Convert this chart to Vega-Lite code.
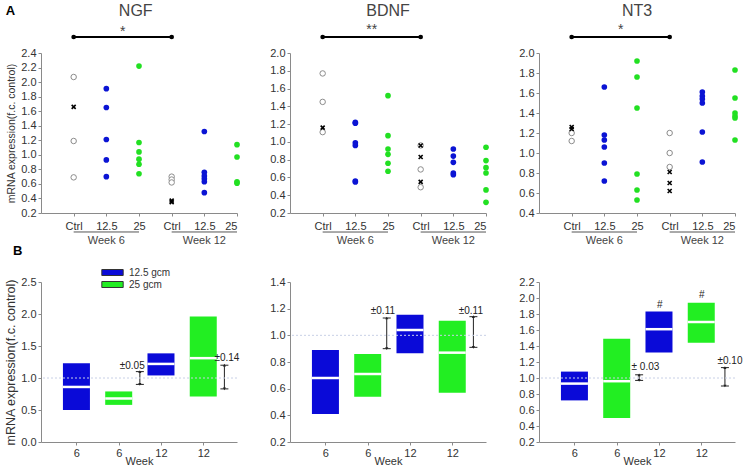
{
"$schema": "https://vega.github.io/schema/vega-lite/v6.json",
"padding": {"left": 4, "top": 2, "right": 0, "bottom": 0},
"config": {
  "font": "Liberation Sans",
  "view": {"stroke": null},
  "axis": {"grid": false, "domainColor": "#8a8a8a", "tickColor": "#8a8a8a", "labelColor": "#333", "labelFontSize": 11, "titleColor": "#333", "titleFontSize": 11, "titleFontWeight": "normal", "tickSize": 3, "labelPadding": 2}
},
"datasets": {
  "ngf": [
    {"i":0,"v":2.07,"k":"o"},{"i":0,"v":1.19,"k":"o"},{"i":0,"v":0.69,"k":"o"},{"i":3,"v":0.70,"k":"o"},{"i":3,"v":0.66,"k":"o"},{"i":3,"v":0.62,"k":"o"},
    {"i":0,"v":1.66,"k":"x"},{"i":3,"v":0.37,"k":"x"},{"i":3,"v":0.35,"k":"x"},
    {"i":1,"v":1.91,"k":"12.5"},{"i":1,"v":1.65,"k":"12.5"},{"i":1,"v":1.21,"k":"12.5"},{"i":1,"v":0.93,"k":"12.5"},{"i":1,"v":0.70,"k":"12.5"},
    {"i":4,"v":1.32,"k":"12.5"},{"i":4,"v":0.76,"k":"12.5"},{"i":4,"v":0.71,"k":"12.5"},{"i":4,"v":0.67,"k":"12.5"},{"i":4,"v":0.63,"k":"12.5"},{"i":4,"v":0.48,"k":"12.5"},
    {"i":2,"v":2.22,"k":"25"},{"i":2,"v":1.17,"k":"25"},{"i":2,"v":1.04,"k":"25"},{"i":2,"v":0.94,"k":"25"},{"i":2,"v":0.87,"k":"25"},{"i":2,"v":0.74,"k":"25"},
    {"i":5,"v":1.14,"k":"25"},{"i":5,"v":0.97,"k":"25"},{"i":5,"v":0.63,"k":"25"},{"i":5,"v":0.61,"k":"25"}
  ],
  "bdnf": [
    {"i":0,"v":1.77,"k":"o"},{"i":0,"v":1.45,"k":"o"},{"i":0,"v":1.11,"k":"o"},{"i":3,"v":0.96,"k":"o"},{"i":3,"v":0.69,"k":"o"},{"i":3,"v":0.49,"k":"o"},
    {"i":0,"v":1.16,"k":"x"},{"i":3,"v":0.96,"k":"x"},{"i":3,"v":0.83,"k":"x"},{"i":3,"v":0.55,"k":"x"},
    {"i":1,"v":1.22,"k":"12.5"},{"i":1,"v":1.21,"k":"12.5"},{"i":1,"v":0.99,"k":"12.5"},{"i":1,"v":0.96,"k":"12.5"},{"i":1,"v":0.56,"k":"12.5"},{"i":1,"v":0.55,"k":"12.5"},
    {"i":4,"v":0.92,"k":"12.5"},{"i":4,"v":0.84,"k":"12.5"},{"i":4,"v":0.77,"k":"12.5"},{"i":4,"v":0.65,"k":"12.5"},{"i":4,"v":0.63,"k":"12.5"},
    {"i":2,"v":1.52,"k":"25"},{"i":2,"v":1.07,"k":"25"},{"i":2,"v":0.92,"k":"25"},{"i":2,"v":0.86,"k":"25"},{"i":2,"v":0.76,"k":"25"},{"i":2,"v":0.67,"k":"25"},
    {"i":5,"v":0.94,"k":"25"},{"i":5,"v":0.79,"k":"25"},{"i":5,"v":0.71,"k":"25"},{"i":5,"v":0.65,"k":"25"},{"i":5,"v":0.46,"k":"25"},{"i":5,"v":0.32,"k":"25"}
  ],
  "nt3": [
    {"i":0,"v":1.20,"k":"o"},{"i":0,"v":1.12,"k":"o"},{"i":3,"v":1.20,"k":"o"},{"i":3,"v":1.00,"k":"o"},{"i":3,"v":0.86,"k":"o"},
    {"i":0,"v":1.26,"k":"x"},{"i":0,"v":1.24,"k":"x"},{"i":3,"v":0.81,"k":"x"},{"i":3,"v":0.70,"k":"x"},{"i":3,"v":0.62,"k":"x"},
    {"i":1,"v":1.66,"k":"12.5"},{"i":1,"v":1.18,"k":"12.5"},{"i":1,"v":1.13,"k":"12.5"},{"i":1,"v":1.06,"k":"12.5"},{"i":1,"v":0.90,"k":"12.5"},{"i":1,"v":0.72,"k":"12.5"},
    {"i":4,"v":1.61,"k":"12.5"},{"i":4,"v":1.57,"k":"12.5"},{"i":4,"v":1.54,"k":"12.5"},{"i":4,"v":1.50,"k":"12.5"},{"i":4,"v":1.21,"k":"12.5"},{"i":4,"v":0.91,"k":"12.5"},
    {"i":2,"v":1.92,"k":"25"},{"i":2,"v":1.76,"k":"25"},{"i":2,"v":1.45,"k":"25"},{"i":2,"v":0.79,"k":"25"},{"i":2,"v":0.63,"k":"25"},{"i":2,"v":0.53,"k":"25"},
    {"i":5,"v":1.83,"k":"25"},{"i":5,"v":1.55,"k":"25"},{"i":5,"v":1.40,"k":"25"},{"i":5,"v":1.37,"k":"25"},{"i":5,"v":1.35,"k":"25"},{"i":5,"v":1.13,"k":"25"}
  ],
  "ngf_b": [
    {"i":0,"week":"6","dose":"12.5 gcm","v":0.50,"v2":1.23},
    {"i":1,"week":"6","dose":"25 gcm","v":0.58,"v2":0.79},
    {"i":2,"week":"12","dose":"12.5 gcm","v":1.04,"v2":1.385},
    {"i":3,"week":"12","dose":"25 gcm","v":0.71,"v2":1.96}
  ],
  "ngf_m": [{"i":0,"v":0.86},{"i":1,"v":0.68},{"i":2,"v":1.22},{"i":3,"v":1.31}],
  "bdnf_b": [
    {"i":0,"week":"6","dose":"12.5 gcm","v":0.41,"v2":0.89},
    {"i":1,"week":"6","dose":"25 gcm","v":0.54,"v2":0.86},
    {"i":2,"week":"12","dose":"12.5 gcm","v":0.865,"v2":1.155},
    {"i":3,"week":"12","dose":"25 gcm","v":0.57,"v2":1.11}
  ],
  "bdnf_m": [{"i":0,"v":0.68},{"i":1,"v":0.71},{"i":2,"v":1.04},{"i":3,"v":0.87}],
  "nt3_b": [
    {"i":0,"week":"6","dose":"12.5 gcm","v":0.72,"v2":1.08},
    {"i":1,"week":"6","dose":"25 gcm","v":0.50,"v2":1.49},
    {"i":2,"week":"12","dose":"12.5 gcm","v":1.32,"v2":1.83},
    {"i":3,"week":"12","dose":"25 gcm","v":1.44,"v2":1.94}
  ],
  "nt3_m": [{"i":0,"v":0.93},{"i":1,"v":0.96},{"i":2,"v":1.61},{"i":3,"v":1.70}],
  "ngf_e": [{"i":1.5,"v":0.9,"v2":1.1},{"i":3.5,"v":0.83,"v2":1.2}],
  "bdnf_e": [{"i":1.45,"v":0.90,"v2":1.13},{"i":3.5,"v":0.91,"v2":1.14}],
  "nt3_e": [{"i":1.53,"v":0.97,"v2":1.04},{"i":3.56,"v":0.90,"v2":1.13}],
  "ngf_t": [{"i":1.32,"v":1.18,"t":"±0.05"},{"i":3.56,"v":1.31,"t":"±0.14"}],
  "bdnf_t": [{"i":1.36,"v":1.18,"t":"±0.11"},{"i":3.44,"v":1.18,"t":"±0.11"}],
  "nt3_t": [{"i":1.68,"v":1.14,"t":"± 0.03"},{"i":3.68,"v":1.21,"t":"±0.10"},{"i":2.02,"v":1.91,"t":"#"},{"i":3.01,"v":2.04,"t":"#"}]
},
"columns": 3,
"spacing": {"row": 69, "column": 53},
"bounds": "flush",
"concat": [
  {
    "width": 196, "height": 160,
    "encoding": {
      "x": {"field": "i", "type": "quantitative", "scale": {"domain": [-1, 5], "nice": false, "zero": false},
            "axis": {"values": [0,1,2,3,4,5], "labelExpr": "datum.value % 3 == 0 ? 'Ctrl' : (datum.value % 3 == 1 ? '12.5' : '25')", "title": null, "labelPadding": 4}},
      "y": {"field": "v", "type": "quantitative", "scale": {"domain": [0.2, 2.4], "nice": false, "zero": false},
            "axis": {"values": [0.2,0.4,0.6,0.8,1.0,1.2,1.4,1.6,1.8,2.0,2.2,2.4], "format": ".1f", "title": "mRNA expression(f.c. control)", "titleFontSize": 10.5, "titlePadding": 4}}
    },
    "layer": [
      {"data": {"name": "ngf"}, "transform": [{"filter": "datum.k == 'o'"}], "mark": {"type": "point", "shape": "circle", "filled": false, "fill": "white", "stroke": "#8c8c8c", "strokeWidth": 1, "size": 30, "opacity": 1}},
      {"data": {"name": "ngf"}, "transform": [{"filter": "datum.k == 'x'"}], "mark": {"type": "point", "shape": "M-1,-1L1,1M-1,1L1,-1", "filled": false, "stroke": "black", "strokeWidth": 1.6, "size": 16, "opacity": 1}},
      {"data": {"name": "ngf"}, "transform": [{"filter": "datum.k == '12.5'"}], "mark": {"type": "circle", "color": "#0b14d4", "size": 32, "opacity": 1}},
      {"data": {"name": "ngf"}, "transform": [{"filter": "datum.k == '25'"}], "mark": {"type": "circle", "color": "#22e022", "size": 32, "opacity": 1}},
      {"data": {"values": [{"i":0,"v":2.62},{"i":3,"v":2.62}]}, "mark": {"type": "line", "color": "black", "strokeWidth": 2, "point": {"filled": true, "size": 22, "color": "black"}}},
      {"data": {"values": [{"i":1.5,"v":2.69,"t":"*"}]}, "mark": {"type": "text", "fontSize": 14, "color": "#444"}, "encoding": {"text": {"field": "t"}}},
      {"data": {"values": [{"i":0,"i2":2,"v":-0.061},{"i":3,"i2":5,"v":-0.061}]}, "mark": {"type": "rule", "color": "#555", "strokeWidth": 1}, "encoding": {"x2": {"field": "i2"}}},
      {"data": {"values": [{"i":1,"v":-0.185,"t":"Week 6"},{"i":4,"v":-0.185,"t":"Week 12"}]}, "mark": {"type": "text", "fontSize": 11, "color": "#444"}, "encoding": {"text": {"field": "t"}}},
      {"data": {"values": [{"i":1.9,"v":2.98,"t":"NGF"}]}, "mark": {"type": "text", "fontSize": 16, "color": "#444"}, "encoding": {"text": {"field": "t"}}},
      {"data": {"values": [{"i":-2.08,"v":2.98,"t":"A"}]}, "mark": {"type": "text", "fontSize": 13, "fontWeight": "bold", "align": "left", "color": "black"}, "encoding": {"text": {"field": "t"}}}
    ]
  },
  {
    "width": 196, "height": 160,
    "encoding": {
      "x": {"field": "i", "type": "quantitative", "scale": {"domain": [-1, 5], "nice": false, "zero": false},
            "axis": {"values": [0,1,2,3,4,5], "labelExpr": "datum.value % 3 == 0 ? 'Ctrl' : (datum.value % 3 == 1 ? '12.5' : '25')", "title": null, "labelPadding": 4}},
      "y": {"field": "v", "type": "quantitative", "scale": {"domain": [0.2, 2.0], "nice": false, "zero": false},
            "axis": {"values": [0.2,0.4,0.6,0.8,1.0,1.2,1.4,1.6,1.8,2.0], "format": ".1f", "title": null}}
    },
    "layer": [
      {"data": {"name": "bdnf"}, "transform": [{"filter": "datum.k == 'o'"}], "mark": {"type": "point", "shape": "circle", "filled": false, "fill": "white", "stroke": "#8c8c8c", "strokeWidth": 1, "size": 30, "opacity": 1}},
      {"data": {"name": "bdnf"}, "transform": [{"filter": "datum.k == 'x'"}], "mark": {"type": "point", "shape": "M-1,-1L1,1M-1,1L1,-1", "filled": false, "stroke": "black", "strokeWidth": 1.6, "size": 16, "opacity": 1}},
      {"data": {"name": "bdnf"}, "transform": [{"filter": "datum.k == '12.5'"}], "mark": {"type": "circle", "color": "#0b14d4", "size": 32, "opacity": 1}},
      {"data": {"name": "bdnf"}, "transform": [{"filter": "datum.k == '25'"}], "mark": {"type": "circle", "color": "#22e022", "size": 32, "opacity": 1}},
      {"data": {"values": [{"i":0,"v":2.18},{"i":3,"v":2.18}]}, "mark": {"type": "line", "color": "black", "strokeWidth": 2, "point": {"filled": true, "size": 22, "color": "black"}}},
      {"data": {"values": [{"i":1.5,"v":2.255,"t":"**"}]}, "mark": {"type": "text", "fontSize": 14, "color": "#444"}, "encoding": {"text": {"field": "t"}}},
      {"data": {"values": [{"i":0,"i2":2,"v":-0.014},{"i":3,"i2":5,"v":-0.014}]}, "mark": {"type": "rule", "color": "#555", "strokeWidth": 1}, "encoding": {"x2": {"field": "i2"}}},
      {"data": {"values": [{"i":1,"v":-0.115,"t":"Week 6"},{"i":4,"v":-0.115,"t":"Week 12"}]}, "mark": {"type": "text", "fontSize": 11, "color": "#444"}, "encoding": {"text": {"field": "t"}}},
      {"data": {"values": [{"i":2,"v":2.476,"t":"BDNF"}]}, "mark": {"type": "text", "fontSize": 16, "color": "#444"}, "encoding": {"text": {"field": "t"}}}
    ]
  },
  {
    "width": 196, "height": 160,
    "encoding": {
      "x": {"field": "i", "type": "quantitative", "scale": {"domain": [-1, 5], "nice": false, "zero": false},
            "axis": {"values": [0,1,2,3,4,5], "labelExpr": "datum.value % 3 == 0 ? 'Ctrl' : (datum.value % 3 == 1 ? '12.5' : '25')", "title": null, "labelPadding": 4}},
      "y": {"field": "v", "type": "quantitative", "scale": {"domain": [0.4, 2.0], "nice": false, "zero": false},
            "axis": {"values": [0.4,0.6,0.8,1.0,1.2,1.4,1.6,1.8,2.0], "format": ".1f", "title": null}}
    },
    "layer": [
      {"data": {"name": "nt3"}, "transform": [{"filter": "datum.k == 'o'"}], "mark": {"type": "point", "shape": "circle", "filled": false, "fill": "white", "stroke": "#8c8c8c", "strokeWidth": 1, "size": 30, "opacity": 1}},
      {"data": {"name": "nt3"}, "transform": [{"filter": "datum.k == 'x'"}], "mark": {"type": "point", "shape": "M-1,-1L1,1M-1,1L1,-1", "filled": false, "stroke": "black", "strokeWidth": 1.6, "size": 16, "opacity": 1}},
      {"data": {"name": "nt3"}, "transform": [{"filter": "datum.k == '12.5'"}], "mark": {"type": "circle", "color": "#0b14d4", "size": 32, "opacity": 1}},
      {"data": {"name": "nt3"}, "transform": [{"filter": "datum.k == '25'"}], "mark": {"type": "circle", "color": "#22e022", "size": 32, "opacity": 1}},
      {"data": {"values": [{"i":0,"v":2.16},{"i":3,"v":2.16}]}, "mark": {"type": "line", "color": "black", "strokeWidth": 2, "point": {"filled": true, "size": 22, "color": "black"}}},
      {"data": {"values": [{"i":1.5,"v":2.235,"t":"*"}]}, "mark": {"type": "text", "fontSize": 14, "color": "#444"}, "encoding": {"text": {"field": "t"}}},
      {"data": {"values": [{"i":0,"i2":2,"v":0.21},{"i":3,"i2":5,"v":0.21}]}, "mark": {"type": "rule", "color": "#555", "strokeWidth": 1}, "encoding": {"x2": {"field": "i2"}}},
      {"data": {"values": [{"i":1,"v":0.12,"t":"Week 6"},{"i":4,"v":0.12,"t":"Week 12"}]}, "mark": {"type": "text", "fontSize": 11, "color": "#444"}, "encoding": {"text": {"field": "t"}}},
      {"data": {"values": [{"i":2,"v":2.42,"t":"NT3"}]}, "mark": {"type": "text", "fontSize": 16, "color": "#444"}, "encoding": {"text": {"field": "t"}}}
    ]
  },
  {
    "width": 196, "height": 160,
    "layer": [
      {
        "encoding": {
          "x": {"field": "i", "type": "quantitative", "scale": {"domain": [-0.72, 3.68], "nice": false, "zero": false},
                "axis": {"values": [0,1,2,3], "labelExpr": "datum.value < 2 ? '6' : '12'", "title": "Week", "titlePadding": -3}},
          "y": {"field": "v", "type": "quantitative", "scale": {"domain": [0, 2.5], "nice": false, "zero": false},
                "axis": {"values": [0,0.5,1.0,1.5,2.0,2.5], "format": ".1f", "title": "mRNA expression(f.c. control)", "titleFontSize": 12.5, "titlePadding": 3}}
        },
        "layer": [
          {"data": {"name": "ngf_b"}, "mark": {"type": "bar", "width": 27},
           "encoding": {"y2": {"field": "v2"},
             "color": {"field": "dose", "type": "nominal", "scale": {"domain": ["12.5 gcm", "25 gcm"], "range": ["#0a0ad8", "#22ee22"]},
                       "legend": {"title": null, "orient": "none", "legendX": 65, "legendY": 213, "padding": 0, "symbolType": "M-1.78,-0.5H1.78V0.5H-1.78Z", "symbolSize": 144, "symbolStrokeColor": "#333", "symbolStrokeWidth": 1, "symbolOpacity": 1, "labelFontSize": 10, "labelColor": "#333", "labelOffset": 10, "rowPadding": 0}}}},
          {"data": {"name": "ngf_m"}, "mark": {"type": "tick", "orient": "horizontal", "size": 27, "thickness": 2.5, "color": "white", "opacity": 1}},
          {"data": {"name": "ngf_e"}, "mark": {"type": "rule", "color": "#222", "strokeWidth": 1}, "encoding": {"y2": {"field": "v2"}}},
          {"data": {"name": "ngf_e"}, "transform": [{"fold": ["v", "v2"], "as": ["end", "v"]}], "mark": {"type": "tick", "orient": "horizontal", "size": 8, "thickness": 1, "color": "#222", "opacity": 1}},
          {"data": {"name": "ngf_e"}, "transform": [{"fold": ["v", "v2"], "as": ["end", "v"]}], "mark": {"type": "point", "filled": true, "color": "#222", "size": 10, "opacity": 1},
           "encoding": {"shape": {"field": "end", "type": "nominal", "scale": {"domain": ["v", "v2"], "range": ["triangle-down", "triangle-up"]}, "legend": null}}},
          {"data": {"name": "ngf_t"}, "mark": {"type": "text", "fontSize": 10, "color": "#222"}, "encoding": {"text": {"field": "t"}}},
          {"data": {"values": [{"i": -1.5, "v": 2.98, "t": "B"}]}, "mark": {"type": "text", "fontSize": 13, "fontWeight": "bold", "align": "left", "color": "black"}, "encoding": {"text": {"field": "t"}}}
        ]
      },
      {"data": {"values": [{"v": 1}]}, "mark": {"type": "rule", "color": "#c8d0e6", "strokeDash": [2, 2], "strokeWidth": 1},
       "encoding": {"y": {"field": "v", "type": "quantitative", "scale": {"domain": [0, 2.5], "nice": false, "zero": false},
                "axis": {"values": [0,0.5,1.0,1.5,2.0,2.5], "format": ".1f", "title": "mRNA expression(f.c. control)", "titleFontSize": 12.5, "titlePadding": 3}}}}
    ]
  },
  {
    "width": 196, "height": 160,
    "layer": [
      {
        "encoding": {
          "x": {"field": "i", "type": "quantitative", "scale": {"domain": [-0.72, 3.68], "nice": false, "zero": false},
                "axis": {"values": [0,1,2,3], "labelExpr": "datum.value < 2 ? '6' : '12'", "title": "Week", "titlePadding": -3}},
          "y": {"field": "v", "type": "quantitative", "scale": {"domain": [0.2, 1.4], "nice": false, "zero": false},
                "axis": {"values": [0.2,0.4,0.6,0.8,1.0,1.2,1.4], "format": ".1f", "title": null}}
        },
        "layer": [
          {"data": {"name": "bdnf_b"}, "mark": {"type": "bar", "width": 27},
           "encoding": {"y2": {"field": "v2"},
             "color": {"field": "dose", "type": "nominal", "scale": {"domain": ["12.5 gcm", "25 gcm"], "range": ["#0a0ad8", "#22ee22"]},
                       "legend": {"title": null, "orient": "none", "legendX": 65, "legendY": 213, "padding": 0, "symbolType": "M-1.78,-0.5H1.78V0.5H-1.78Z", "symbolSize": 144, "symbolStrokeColor": "#333", "symbolStrokeWidth": 1, "symbolOpacity": 1, "labelFontSize": 10, "labelColor": "#333", "labelOffset": 10, "rowPadding": 0}}}},
          {"data": {"name": "bdnf_m"}, "mark": {"type": "tick", "orient": "horizontal", "size": 27, "thickness": 2.5, "color": "white", "opacity": 1}},
          {"data": {"name": "bdnf_e"}, "mark": {"type": "rule", "color": "#222", "strokeWidth": 1}, "encoding": {"y2": {"field": "v2"}}},
          {"data": {"name": "bdnf_e"}, "transform": [{"fold": ["v", "v2"], "as": ["end", "v"]}], "mark": {"type": "tick", "orient": "horizontal", "size": 8, "thickness": 1, "color": "#222", "opacity": 1}},
          {"data": {"name": "bdnf_e"}, "transform": [{"fold": ["v", "v2"], "as": ["end", "v"]}], "mark": {"type": "point", "filled": true, "color": "#222", "size": 10, "opacity": 1},
           "encoding": {"shape": {"field": "end", "type": "nominal", "scale": {"domain": ["v", "v2"], "range": ["triangle-down", "triangle-up"]}, "legend": null}}},
          {"data": {"name": "bdnf_t"}, "mark": {"type": "text", "fontSize": 10, "color": "#222"}, "encoding": {"text": {"field": "t"}}}
        ]
      },
      {"data": {"values": [{"v": 1}]}, "mark": {"type": "rule", "color": "#c8d0e6", "strokeDash": [2, 2], "strokeWidth": 1},
       "encoding": {"y": {"field": "v", "type": "quantitative", "scale": {"domain": [0.2, 1.4], "nice": false, "zero": false},
                "axis": {"values": [0.2,0.4,0.6,0.8,1.0,1.2,1.4], "format": ".1f", "title": null}}}}
    ]
  },
  {
    "width": 196, "height": 160,
    "layer": [
      {
        "encoding": {
          "x": {"field": "i", "type": "quantitative", "scale": {"domain": [-0.72, 3.68], "nice": false, "zero": false},
                "axis": {"values": [0,1,2,3], "labelExpr": "datum.value < 2 ? '6' : '12'", "title": "Week", "titlePadding": -3}},
          "y": {"field": "v", "type": "quantitative", "scale": {"domain": [0.2, 2.2], "nice": false, "zero": false},
                "axis": {"values": [0.2,0.4,0.6,0.8,1.0,1.2,1.4,1.6,1.8,2.0,2.2], "format": ".1f", "title": null}}
        },
        "layer": [
          {"data": {"name": "nt3_b"}, "mark": {"type": "bar", "width": 27},
           "encoding": {"y2": {"field": "v2"},
             "color": {"field": "dose", "type": "nominal", "scale": {"domain": ["12.5 gcm", "25 gcm"], "range": ["#0a0ad8", "#22ee22"]},
                       "legend": {"title": null, "orient": "none", "legendX": 65, "legendY": 213, "padding": 0, "symbolType": "M-1.78,-0.5H1.78V0.5H-1.78Z", "symbolSize": 144, "symbolStrokeColor": "#333", "symbolStrokeWidth": 1, "symbolOpacity": 1, "labelFontSize": 10, "labelColor": "#333", "labelOffset": 10, "rowPadding": 0}}}},
          {"data": {"name": "nt3_m"}, "mark": {"type": "tick", "orient": "horizontal", "size": 27, "thickness": 2.5, "color": "white", "opacity": 1}},
          {"data": {"name": "nt3_e"}, "mark": {"type": "rule", "color": "#222", "strokeWidth": 1}, "encoding": {"y2": {"field": "v2"}}},
          {"data": {"name": "nt3_e"}, "transform": [{"fold": ["v", "v2"], "as": ["end", "v"]}], "mark": {"type": "tick", "orient": "horizontal", "size": 8, "thickness": 1, "color": "#222", "opacity": 1}},
          {"data": {"name": "nt3_e"}, "transform": [{"fold": ["v", "v2"], "as": ["end", "v"]}], "mark": {"type": "point", "filled": true, "color": "#222", "size": 10, "opacity": 1},
           "encoding": {"shape": {"field": "end", "type": "nominal", "scale": {"domain": ["v", "v2"], "range": ["triangle-down", "triangle-up"]}, "legend": null}}},
          {"data": {"name": "nt3_t"}, "mark": {"type": "text", "fontSize": 10, "color": "#222"}, "encoding": {"text": {"field": "t"}}}
        ]
      },
      {"data": {"values": [{"v": 1}]}, "mark": {"type": "rule", "color": "#c8d0e6", "strokeDash": [2, 2], "strokeWidth": 1},
       "encoding": {"y": {"field": "v", "type": "quantitative", "scale": {"domain": [0.2, 2.2], "nice": false, "zero": false},
                "axis": {"values": [0.2,0.4,0.6,0.8,1.0,1.2,1.4,1.6,1.8,2.0,2.2], "format": ".1f", "title": null}}}}
    ]
  }
]
}
